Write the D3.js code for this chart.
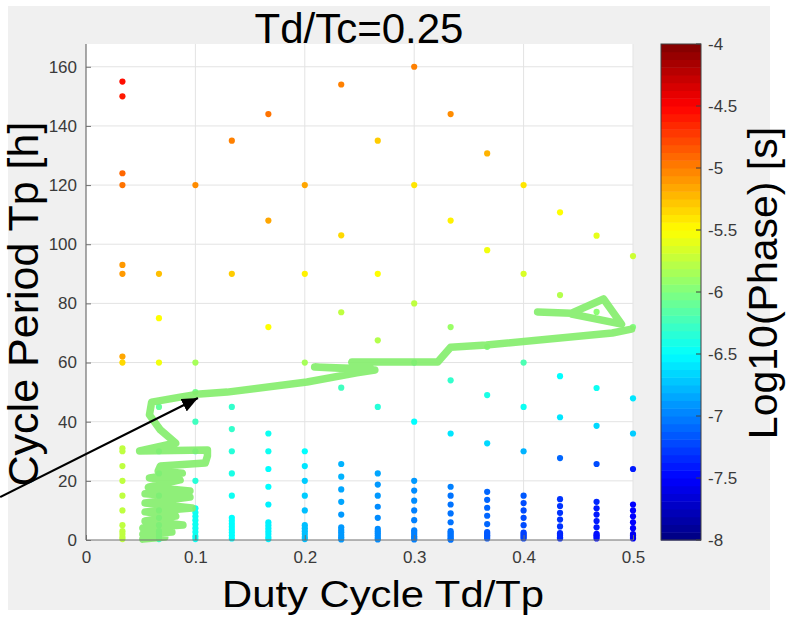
<!DOCTYPE html>
<html><head><meta charset="utf-8">
<script src="https://cdn.jsdelivr.net/npm/d3@7/dist/d3.min.js"></script>
<style>body{margin:0;background:#fff}svg{display:block}text{font-family:"Liberation Sans",Arial,Helvetica,sans-serif}</style>
</head><body>
<svg id="c" width="786" height="620"></svg>
<script>
// ---------- data ----------
const dutyCycles = [0.0333,0.0667,0.1,0.1333,0.1667,0.2,0.2333,0.2667,0.3,0.3333,0.3667,0.4,0.4333,0.4667,0.5];
const periodsByDuty = [
  [155,150,124,120,93,90,62,60,31,30,25,20,15,10,5,3,2,1,0.3],
  [90,75,60,45,30,22.5,15,10,7.5,5,3,2,1,0.3],
  [120,60,50,40,30,20,10.7,9.3,8,6.7,5.3,4,2.7,1.3,0.3],
  [135,90,45,37.5,30,22.5,15,7.5,6.5,5.5,4.5,3.5,2.5,1.5,0.5],
  [144,108,72,36,30,24,18,12,6,5,4,3,2,1,0.3],
  [120,90,60,30,25,20,15,10,5,4,3,2,1,0.3],
  [154,103,77,51.5,25.7,21.4,17.1,12.9,8.6,4.3,3.4,2.6,1.7,0.9,0.2],
  [135,90,67.5,45,22.5,18.75,15,11.25,7.5,3.75,3,2.25,1.5,0.75,0.2],
  [160,120,80,60,40,20,16.7,13.3,10,6.7,3.3,2.7,2,1.3,0.7,0.2],
  [144,108,72,54,36,18,15,12,9,6,3,2.4,1.8,1.2,0.6,0.1],
  [130.7,98,65.3,49,32.7,16.3,13.6,10.9,8.2,5.4,2.7,2.2,1.6,1.1,0.5],
  [120,90,60,45,30,15,12.5,10,7.5,5,2.5,2,1.5,1,0.5],
  [110.8,82.8,55.4,41.5,27.7,13.8,11.5,9.2,6.9,4.6,2.3,1.8,1.4,0.9,0.5],
  [102.9,77.1,51.4,38.6,25.7,12.9,10.7,8.6,6.4,4.3,2.1,1.6,1.1,0.5],
  [96,72,47.9,36,24,12,10,8,6,4,2,1.5,1,0.5]
];
const log10PhaseByDuty = [
  [-4.55,-4.6,-4.9,-4.95,-5.1,-5.1,-5.15,-5.35,-5.75,-5.75,-5.75,-5.75,-5.75,-5.75,-5.75,-5.75,-5.75,-5.75,-5.75],
  [-5.25,-5.5,-5.55,-6.1,-6.2,-6.25,-6.3,-6.3,-6.35,-6.35,-6.35,-6.35,-6.35,-6.35],
  [-5.05,-5.85,-6.05,-6.25,-6.3,-6.35,-6.45,-6.45,-6.45,-6.45,-6.45,-6.45,-6.45,-6.45,-6.45],
  [-5.0,-5.3,-6.3,-6.3,-6.35,-6.4,-6.45,-6.5,-6.5,-6.5,-6.5,-6.5,-6.5,-6.5,-6.5],
  [-4.95,-5.15,-5.5,-6.45,-6.45,-6.5,-6.5,-6.55,-6.55,-6.55,-6.55,-6.55,-6.55,-6.55,-6.55],
  [-5.15,-5.45,-5.85,-6.5,-6.6,-6.7,-6.7,-6.75,-6.75,-6.75,-6.75,-6.75,-6.75,-6.75],
  [-5.0,-5.35,-5.75,-6.25,-6.8,-6.8,-6.85,-6.85,-6.9,-6.9,-6.9,-6.9,-6.9,-6.9,-6.9],
  [-5.3,-5.5,-5.8,-6.35,-6.85,-6.9,-6.9,-6.95,-6.95,-6.95,-6.95,-6.95,-6.95,-6.95,-6.95],
  [-5.0,-5.4,-5.75,-6.2,-6.5,-6.9,-6.95,-6.95,-7.0,-7.0,-7.0,-7.0,-7.0,-7.0,-7.0,-7.0],
  [-5.05,-5.45,-5.9,-6.3,-6.6,-7.0,-7.05,-7.05,-7.05,-7.05,-7.05,-7.05,-7.05,-7.05,-7.05,-7.05],
  [-5.2,-5.55,-6.0,-6.4,-6.65,-7.1,-7.1,-7.1,-7.1,-7.1,-7.15,-7.15,-7.15,-7.15,-7.15],
  [-5.4,-5.65,-6.2,-6.45,-6.8,-7.15,-7.2,-7.2,-7.2,-7.2,-7.25,-7.25,-7.25,-7.25,-7.25],
  [-5.5,-5.8,-6.5,-6.6,-7.1,-7.3,-7.3,-7.3,-7.3,-7.3,-7.35,-7.35,-7.35,-7.35,-7.35],
  [-5.6,-5.95,-6.45,-6.65,-7.2,-7.35,-7.4,-7.4,-7.4,-7.4,-7.45,-7.45,-7.45,-7.45],
  [-5.7,-6.0,-6.6,-6.7,-7.4,-7.5,-7.5,-7.5,-7.5,-7.5,-7.55,-7.55,-7.55,-7.55]
];
// hand-drawn green boundary line (duty, period)
const boundaryMain = [
  [0.052,0.3],[0.072,1.0],[0.052,2.0],[0.0785,2.7],[0.052,4.1],[0.0886,5.1],[0.054,6.4],[0.082,8.1],
  [0.054,9.5],[0.097,10.8],[0.054,12.5],[0.095,14.5],[0.054,15.6],[0.095,16.6],[0.057,17.9],[0.086,20.3],
  [0.058,21.0],[0.088,22.6],[0.066,23.3],[0.068,25.0],[0.109,26.0],[0.111,28.4],[0.111,30.4],[0.049,30.1],
  [0.082,32.8],[0.068,37.2],[0.058,42.3],[0.060,46.6],[0.086,48.3],[0.104,49.4],[0.129,50.0],[0.202,53.4],
  [0.2475,56.5],[0.264,57.5],[0.209,58.5],[0.261,57.8],[0.243,60.2],[0.3215,60.2],[0.3333,65.2],[0.366,65.9],
  [0.481,70.0],[0.4986,71.3]
];
const boundaryLoop = [[0.4128,77.1],[0.4438,76.7],[0.4731,81.5],[0.4895,73.0],[0.4438,76.4]];
const arrowPoints = [[-0.0785,14.5],[0.1023,48.0]];
const xTicks = [0,0.1,0.2,0.3,0.4,0.5];
const yTicks = [0,20,40,60,80,100,120,140,160];
const cTicks = [-4,-4.5,-5,-5.5,-6,-6.5,-7,-7.5,-8];

// ---------- layout ----------
const svg = d3.select("#c");
const L = 86, R = 633, T = 44, B = 540;
const x = d3.scaleLinear().domain([0,0.5]).range([L,R]);
const y = d3.scaleLinear().domain([0,167.7]).range([B,T]);
const clamp = v => Math.max(0, Math.min(1, v));
const jet = t => d3.rgb(255*clamp(1.5-Math.abs(4*t-3)), 255*clamp(1.5-Math.abs(4*t-2)), 255*clamp(1.5-Math.abs(4*t-1))).toString();
const color = d3.scaleSequential(jet).domain([-8,-4]);

// figure background
svg.append("rect").attr("x",8).attr("y",6).attr("width",762).attr("height",604).attr("fill","#f0f0f0");
svg.append("rect").attr("x",L).attr("y",T).attr("width",R-L).attr("height",B-T).attr("fill","#fff");

// grid
const g = svg.append("g");
g.selectAll(".gx").data(xTicks.filter(d=>d>0)).join("line")
  .attr("x1",d=>x(d)).attr("x2",d=>x(d)).attr("y1",T).attr("y2",B)
  .attr("stroke","#e3e3e3").attr("stroke-width",1);
g.selectAll(".gy").data(yTicks.filter(d=>d>0)).join("line")
  .attr("x1",L).attr("x2",R).attr("y1",d=>y(d)).attr("y2",d=>y(d))
  .attr("stroke","#e3e3e3").attr("stroke-width",1);

// scatter
const pts = [];
dutyCycles.forEach((dc,i)=>periodsByDuty[i].forEach((p,j)=>pts.push({dc, p, v: log10PhaseByDuty[i][j]})));
svg.append("g").selectAll("circle").data(pts).join("circle")
  .attr("cx",d=>x(d.dc)).attr("cy",d=>y(d.p)).attr("r",3.1)
  .attr("fill",d=>color(d.v));

// green line
const line = d3.line().x(d=>x(d[0])).y(d=>y(d[1]));
[boundaryMain, boundaryLoop].forEach(seg=>{
  svg.append("path").attr("d",line(seg)).attr("fill","none")
    .attr("stroke","rgb(134,238,110)").attr("stroke-width",7.5)
    .attr("stroke-linejoin","round").attr("stroke-linecap","round").attr("stroke-opacity",0.92);
});

// axes
const axCol = "#707070", txtCol = "#3a3a3a";
const xa = svg.append("g").attr("transform",`translate(0,${B})`)
  .call(d3.axisBottom(x).tickValues(xTicks).tickFormat(d3.format("")).tickSizeInner(-5).tickSizeOuter(0).tickPadding(11));
const ya = svg.append("g").attr("transform",`translate(${L},0)`)
  .call(d3.axisLeft(y).tickValues(yTicks).tickSizeInner(-5).tickSizeOuter(0).tickPadding(9));
[xa,ya].forEach(a=>{
  a.select(".domain").attr("stroke",axCol).attr("stroke-width",1.2);
  a.selectAll(".tick line").attr("stroke",axCol);
  a.selectAll(".tick text").attr("fill",txtCol).style("font-size","17px").style("font-family","'Liberation Sans',Arial,sans-serif");
});
ya.select(".domain").attr("d",`M0,${T}V${B}`);
xa.select(".domain").attr("d",`M${L},0H${R}`);

// colorbar
const cbX = 661, cbW = 40;
const cy = d3.scaleLinear().domain([-8,-4]).range([B,T]);
const steps = d3.range(64);
svg.append("g").selectAll("rect").data(steps).join("rect")
  .attr("x",cbX).attr("width",cbW)
  .attr("y",i=>cy(-8+(i+1)*4/64)).attr("height",i=>cy(-8+i*4/64)-cy(-8+(i+1)*4/64)+0.5)
  .attr("fill",i=>color(-8+(i+0.5)*4/64));
svg.append("rect").attr("x",cbX).attr("y",T).attr("width",cbW).attr("height",B-T)
  .attr("fill","none").attr("stroke","#404040").attr("stroke-width",1);
const cg = svg.append("g");
cg.selectAll("line").data(cTicks).join("line")
  .attr("x1",cbX+cbW-5).attr("x2",cbX+cbW).attr("y1",d=>cy(d)).attr("y2",d=>cy(d))
  .attr("stroke","#404040");
cg.selectAll("text").data(cTicks).join("text")
  .attr("x",cbX+cbW+7).attr("y",d=>cy(d)).attr("dy","0.35em")
  .attr("fill",txtCol).style("font-size","17px").text(d=>d);

// titles
svg.append("text").attr("x",359).attr("y",43).attr("text-anchor","middle")
  .style("font-size","42px").attr("fill","#000").text("Td/Tc=0.25");
svg.append("text").attr("x",383).attr("y",607).attr("text-anchor","middle")
  .attr("textLength",322).attr("lengthAdjust","spacingAndGlyphs")
  .style("font-size","37px").attr("fill","#000").text("Duty Cycle Td/Tp");
svg.append("text").attr("transform","translate(38,304) rotate(-90)").attr("text-anchor","middle")
  .style("font-size","43px").attr("fill","#000").text("Cycle Period Tp [h]");
svg.append("text").attr("transform","translate(777,283) rotate(-90)").attr("text-anchor","middle")
  .style("font-size","41px").attr("fill","#000").text("Log10(Phase) [s]");

// arrow annotation
const defs = svg.append("defs");
defs.append("marker").attr("id","ah").attr("markerUnits","userSpaceOnUse")
  .attr("markerWidth",18).attr("markerHeight",14).attr("refX",16).attr("refY",7).attr("orient","auto")
  .append("path").attr("d","M0,0L16,7L0,14Z").attr("fill","#000");
svg.append("path").attr("d",line(arrowPoints)).attr("stroke","#000").attr("stroke-width",2.2)
  .attr("fill","none").attr("marker-end","url(#ah)");
</script>
</body></html>
